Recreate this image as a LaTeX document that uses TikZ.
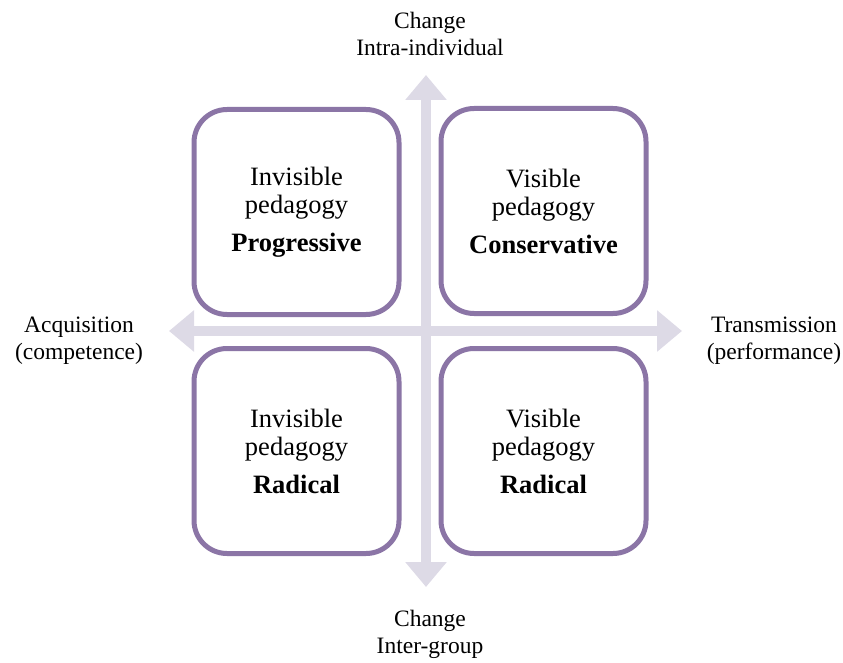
\documentclass[tikz,border=0pt]{standalone}
\usepackage{fontspec}
\setmainfont{Liberation Serif}
\usetikzlibrary{arrows.meta}
\definecolor{boxpurple}{RGB}{139,117,166}
\definecolor{axisgray}{RGB}{221,218,230}

\begin{document}
\begin{tikzpicture}[x=1pt,y=-1pt,
  quad/.style={draw=boxpurple,line width=5pt,fill=white,rounded corners=33pt,
    minimum width=205pt,minimum height=205pt,align=center,inner sep=0pt,
    font=\fontsize{26.5}{28}\selectfont},
  lbl/.style={align=center,inner sep=0pt,font=\fontsize{23.5}{27}\selectfont},
  axis/.style={draw=axisgray,line width=10pt,
    {Triangle[width=40pt,length=25pt]}-{Triangle[width=40pt,length=25pt]}}]
\useasboundingbox (0,0) rectangle (843,663);
% axes
\coordinate (up) at (426,75);
\coordinate (down) at (426,587);
\coordinate (west) at (169,331);
\coordinate (east) at (682,331);
\draw[axis] (up) -- (down);
\draw[axis] (west) -- (east);
% quadrants
\node[quad] (invprog) at (296.5,212) {Invisible\\pedagogy\\[10pt]\textbf{Progressive}};
\node[quad] (viscons) at (543.5,211) {Visible\\pedagogy\\[10pt]\textbf{Conservative}};
\node[quad] (invrad) at (296.5,451) {Invisible\\pedagogy\\[10pt]\textbf{Radical}};
\node[quad] (visrad) at (543.5,451) {Visible\\pedagogy\\[10pt]\textbf{Radical}};
% axis labels
\node[lbl] (intra) at (430,33.5) {Change\\Intra-individual};
\node[lbl] (inter) at (430,634.5) {Change\\Inter-group};
\node[lbl] (acq) at (79,340.5) {Acquisition\\(competence)};
\node[lbl] (trans) at (774,340.5) {Transmission\\(performance)};
\end{tikzpicture}
\end{document}
